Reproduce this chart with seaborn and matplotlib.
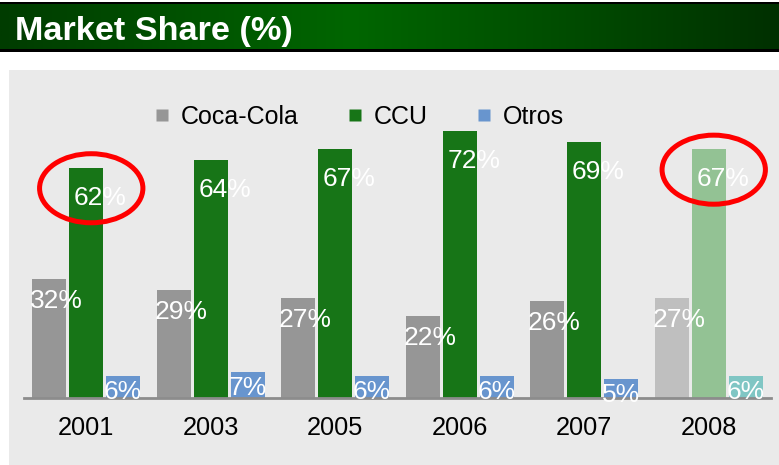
import matplotlib
matplotlib.use('Agg')
import matplotlib.pyplot as plt
import seaborn as sns
import pandas as pd
import numpy as np
from matplotlib.patches import Ellipse, Rectangle
from matplotlib.lines import Line2D
from matplotlib.colors import LinearSegmentedColormap

# ---- data ----
years = ['2001', '2003', '2005', '2006', '2007', '2008']
series = ['Coca-Cola', 'CCU', 'Otros']
coca = [32, 29, 27, 22, 26, 27]
ccu = [62, 64, 67, 72, 69, 67]
otros = [6, 7, 6, 6, 5, 6]
title = 'Market Share (%)'
highlight_years = ['2001', '2008']
faded_year = '2008'

colors = {'Coca-Cola': '#969696', 'CCU': '#177517', 'Otros': '#6895CE'}
faded = {'Coca-Cola': '#BFBFBF', 'CCU': '#93C294', 'Otros': '#80C6C4'}

df = pd.DataFrame({
    'year': years * 3,
    'series': [s for s in series for _ in years],
    'value': coca + ccu + otros,
})

plt.rcParams['font.family'] = ['Liberation Sans', 'DejaVu Sans']

W, H = 779, 465
fig = plt.figure(figsize=(W / 100, H / 100), dpi=100)
fig.patch.set_facecolor('white')

# ---- title bar ----
tb = fig.add_axes([0, 1 - 52 / H, 1, 50 / H])
tb.set_facecolor('black')
tb.set_xticks([]); tb.set_yticks([])
for s in tb.spines.values():
    s.set_visible(False)
gax = fig.add_axes([0, 1 - 49 / H, 1, 45 / H])
gax.set_axis_off()
cmap = LinearSegmentedColormap.from_list(
    'g', [(0, '#003c00'), (0.45, '#006600'), (0.75, '#004a00'), (1, '#003000')])
grad = np.linspace(0, 1, 512).reshape(1, -1)
gax.imshow(grad, aspect='auto', cmap=cmap, extent=[0, 1, 0, 1])
fig.text(15 / W, 1 - 40 / H, title, color='white', fontsize=24.7,
         fontweight='bold', ha='left', va='baseline')

# ---- gray panel ----
fig.add_artist(Rectangle((9 / W, 0), 1 - 9 / W, 1 - 70 / H,
                         transform=fig.transFigure, facecolor='#EAEAEA',
                         edgecolor='none', zorder=0))

# ---- main chart ----
ax = fig.add_axes([24 / W, 67 / H, 747 / W, 297 / H])
ax.patch.set_alpha(0)
sns.barplot(data=df, x='year', y='value', hue='series', order=years,
            hue_order=series, palette=colors, width=0.89, gap=0.08,
            saturation=1, linewidth=0, legend=False, ax=ax)
ax.set_xlim(-0.5, 5.5)
ax.set_ylim(0, 80)

offsets = {'Coca-Cola': (7, 22), 'CCU': (14, 30), 'Otros': (0, 16)}
for s, cont in zip(series, ax.containers):
    for j, bar in enumerate(cont):
        v = bar.get_height()
        if years[j] == faded_year:
            bar.set_facecolor(faded[s])
        cx = bar.get_x() + bar.get_width() / 2
        dx, dy = offsets[s]
        ax.annotate(f'{v:.0f}%', xy=(cx, v), xytext=(dx, -dy),
                    textcoords='offset pixels', ha='center', va='center',
                    color='white', fontsize=19, zorder=20,
                    annotation_clip=False)
        if s == 'CCU' and years[j] in highlight_years:
            ax.add_patch(Ellipse((cx + 0.04, v - 5.5), width=0.83, height=18.6,
                                 fill=False, edgecolor='#FF0000', lw=3.6,
                                 zorder=25, clip_on=False))

ax.set_xlabel(''); ax.set_ylabel('')
ax.set_yticks([])
ax.tick_params(axis='x', length=0, pad=13, labelsize=18.3, labelcolor='black')
for k in ['top', 'left', 'right']:
    ax.spines[k].set_visible(False)
ax.spines['bottom'].set_color('#8C8C8C')
ax.spines['bottom'].set_linewidth(2)
ax.spines['bottom'].set_zorder(1)

handles = [Line2D([], [], marker='s', linestyle='', markersize=9,
                  markerfacecolor=colors[s], markeredgecolor='none') for s in series]
fig.legend(handles, series, loc='center left',
           bbox_to_anchor=(156 / W, 1 - 117 / H), ncol=3, frameon=False,
           handlelength=0.5, handletextpad=0.5, columnspacing=2.0,
           fontsize=18, borderpad=0, borderaxespad=0)

fig.savefig('out.png', dpi=100)
